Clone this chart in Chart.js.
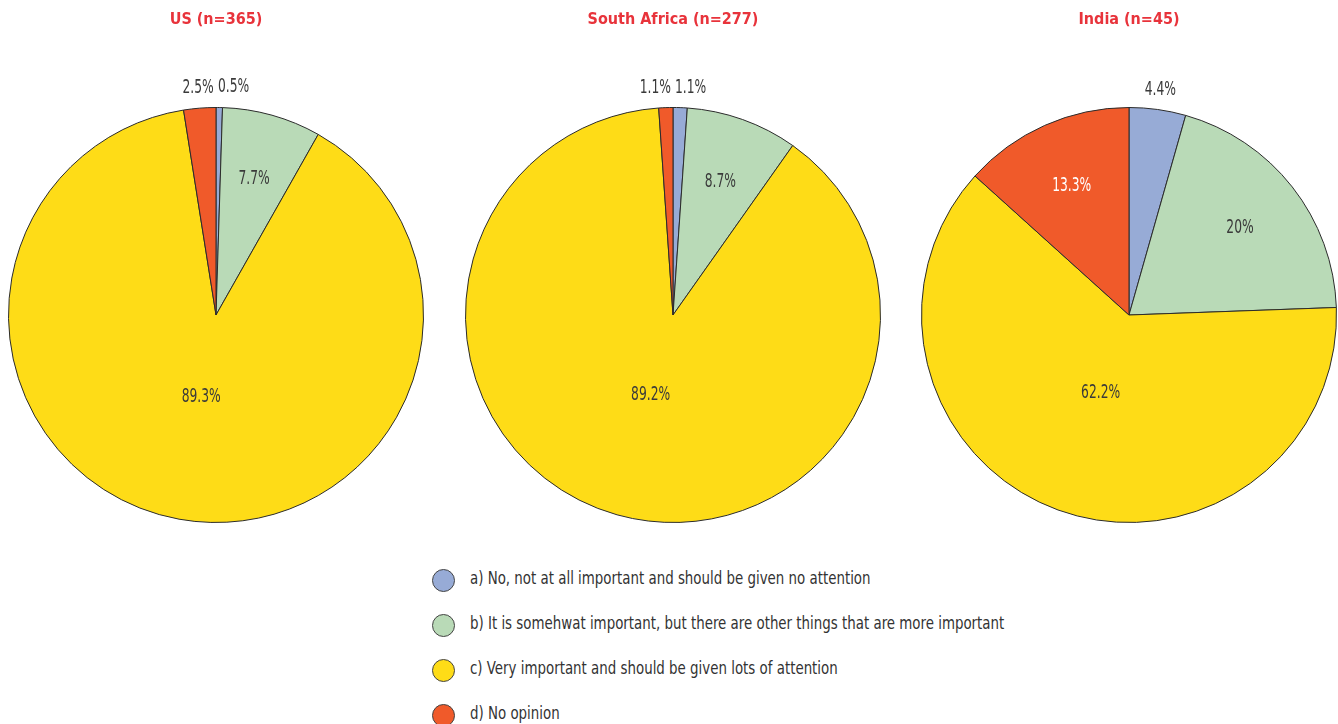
<!DOCTYPE html>
<html>
<head>
	<title>Importance survey</title>
	<script src="https://cdn.jsdelivr.net/npm/chart.js"></script>
	<style>
		body {
			margin: 0;
			padding: 0;
			width: 1338px;
			height: 724px;
			overflow: hidden;
			position: relative;
			background: #fff;
			font-family: "DejaVu Sans Condensed", "Liberation Sans Narrow", sans-serif;
		}
		.pie-box {
			position: absolute;
			top: 0;
			width: 460px;
			height: 540px;
		}
		#legend {
			position: absolute;
			left: 432px;
			top: 568px;
			margin: 0;
			padding: 0;
			list-style: none;
		}
		#legend li {
			height: 45px;
			display: flex;
			align-items: flex-start;
			font-size: 17.5px;
			color: #333;
			white-space: nowrap;
		}
		#legend span.dot {
			width: 21px;
			height: 21px;
			border-radius: 50%;
			border: 1px solid #444;
			margin-right: 15px;
			margin-top: 1px;
			flex: none;
		}
		#legend span.txt {
			display: inline-block;
			transform: scaleX(0.85);
			transform-origin: left center;
		}
	</style>
</head>
<body>
	<div class="pie-box" id="box1"><canvas id="pie1"></canvas></div>
	<div class="pie-box" id="box2"><canvas id="pie2"></canvas></div>
	<div class="pie-box" id="box3"><canvas id="pie3"></canvas></div>
	<ul id="legend"></ul>
	<script>
		// answers, clockwise from the top
		var categories = [
			'a) No, not at all important and should be given no attention',
			'b) It is somehwat important, but there are other things that are more important',
			'c) Very important and should be given lots of attention',
			'd) No opinion'
		];
		var colours = ['#97abd6', '#b9dab7', '#fedc17', '#f05a2a'];

		var titles = ['US (n=365)', 'South Africa (n=277)', 'India (n=45)'];
		var usValues = [0.5, 7.7, 89.3, 2.5];
		var saValues = [1.1, 8.7, 89.2, 1.1];
		var indiaValues = [4.4, 20, 62.2, 13.3];

		var pieCenters = [216, 673, 1129];
		var squeeze = 0.72; // fake a condensed face

		// percent labels: small slices outside, others inside
		var sliceLabels = {
			id: 'sliceLabels',
			afterDatasetsDraw: function(chart) {
				var ctx = chart.ctx;
				var data = chart.data.datasets[0].data;
				var total = data.reduce(function(a, b) { return a + b; }, 0);
				ctx.save();
				ctx.font = '19px "DejaVu Sans Condensed", "Liberation Sans Narrow", sans-serif';
				ctx.textBaseline = 'middle';
				ctx.textAlign = 'center';
				chart.getDatasetMeta(0).data.forEach(function(arc, i) {
					var p = arc.getProps(['x', 'y', 'startAngle', 'endAngle', 'outerRadius'], true);
					var mid = (p.startAngle + p.endAngle) / 2;
					var share = data[i] / total;
					var text = data[i] + '%';
					var w = ctx.measureText(text).width * squeeze;
					var r, tx, ty;
					if (share < 0.05) {
						r = p.outerRadius + 20;
						tx = p.x + Math.cos(mid) * r;
						ty = p.y + Math.sin(mid) * r;
						if (Math.cos(mid) >= 0) {
							tx = Math.max(tx, p.x + w / 2 + 2);
						} else {
							tx = Math.min(tx, p.x - w / 2 - 2);
						}
					} else {
						r = p.outerRadius * (share > 0.5 ? 0.4 : 0.68);
						tx = p.x + Math.cos(mid) * r;
						ty = p.y + Math.sin(mid) * r;
					}
					ctx.fillStyle = (share >= 0.05 && i === 3) ? '#ffffff' : '#3a3a3a';
					ctx.save();
					ctx.translate(tx, ty);
					ctx.scale(squeeze, 1);
					ctx.fillText(text, 0, 0);
					ctx.restore();
				});
				ctx.restore();
			}
		};

		function makePie(id, boxId, title, values, cx) {
			var box = document.getElementById(boxId);
			box.style.left = (cx - 230) + 'px';
			var ctx = document.getElementById(id).getContext('2d');
			return new Chart(ctx, {
				type: 'pie',
				data: {
					labels: categories,
					datasets: [{
						data: values,
						backgroundColor: colours,
						borderColor: '#2b2b2b',
						borderWidth: 1
					}]
				},
				options: {
					responsive: true,
					maintainAspectRatio: false,
					animation: false,
					layout: {
						padding: { top: 0, bottom: 17, left: 22, right: 22 }
					},
					plugins: {
						legend: { display: false },
						tooltip: { enabled: false },
						title: {
							display: true,
							text: title,
							color: '#e8333b',
							font: { family: '"DejaVu Sans Condensed", "Liberation Sans Narrow", sans-serif', size: 16, weight: 'bold', lineHeight: 1.2 },
							padding: { top: 10, bottom: 77.8 }
						}
					}
				},
				plugins: [sliceLabels]
			});
		}

		makePie('pie1', 'box1', titles[0], usValues, pieCenters[0]);
		makePie('pie2', 'box2', titles[1], saValues, pieCenters[1]);
		makePie('pie3', 'box3', titles[2], indiaValues, pieCenters[2]);

		// shared legend
		var legend = document.getElementById('legend');
		categories.forEach(function(label, i) {
			var li = document.createElement('li');
			var dot = document.createElement('span');
			dot.className = 'dot';
			dot.style.background = colours[i];
			var txt = document.createElement('span');
			txt.className = 'txt';
			txt.textContent = label;
			li.appendChild(dot);
			li.appendChild(txt);
			legend.appendChild(li);
		});
	</script>
</body>
</html>
